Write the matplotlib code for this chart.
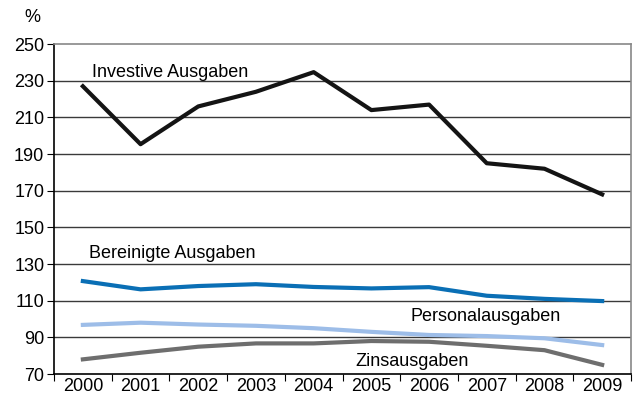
import numpy as np
import matplotlib.pyplot as plt

plt.rcParams['font.family'] = ['Liberation Sans', 'DejaVu Sans']

years = ['2000', '2001', '2002', '2003', '2004', '2005', '2006', '2007', '2008', '2009']
investive = [227, 195.4, 216, 224, 234.7, 214, 217, 185, 182, 168]
bereinigte = [120.7, 116.2, 118, 119, 117.5, 116.7, 117.4, 112.7, 111, 109.8]
personal = [96.8, 98, 97, 96.3, 95, 93, 91.3, 90.7, 89.5, 85.8]
zins = [78, 81.6, 84.9, 86.7, 86.7, 88, 87.6, 85.4, 83, 75]

x = np.arange(len(years))

fig = plt.figure(figsize=(6.37, 4.01), dpi=100)
ax = fig.add_axes([0.0848, 0.0673, 0.9058, 0.8227])

for v in range(90, 250, 20):
    ax.axhline(v, color='#3a3a3a', lw=1.0, zorder=1)

ax.plot(x, zins, color='#6e6e6e', lw=3, zorder=3)
ax.plot(x, personal, color='#9dbde8', lw=3, zorder=3)
ax.plot(x, bereinigte, color='#0a6fb5', lw=3, zorder=3)
ax.plot(x, investive, color='#141414', lw=3, zorder=3)

ax.text(0.16, 234.5, 'Investive Ausgaben', fontsize=13, va='center')
ax.text(0.11, 135.5, 'Bereinigte Ausgaben', fontsize=13, va='center')
ax.text(5.67, 101.5, 'Personalausgaben', fontsize=13, va='center')
ax.text(4.72, 76.8, 'Zinsausgaben', fontsize=13, va='center')

ax.set_xlim(-0.5, 9.5)
ax.set_ylim(70, 250)
ax.set_yticks(range(70, 251, 20))
ax.tick_params(axis='y', labelsize=13, direction='out', length=5, color='black', pad=2)
ax.set_xticks(np.arange(-0.5, 10, 1))
ax.set_xticklabels([])
ax.set_xticks(x, minor=True)
ax.set_xticklabels(years, minor=True)
ax.tick_params(axis='x', which='major', direction='out', length=5, color='black')
ax.tick_params(axis='x', which='minor', length=0, labelsize=13, pad=3)

ax.spines['left'].set_color('black')
ax.spines['bottom'].set_color('black')
ax.spines['top'].set_color('#888888')
ax.spines['right'].set_color('#888888')
for s in ax.spines.values():
    s.set_linewidth(1.2)

fig.text(32 / 637, 1 - 18 / 401, '%', fontsize=13, ha='center', va='center')

fig.savefig('out.png', dpi=100)
